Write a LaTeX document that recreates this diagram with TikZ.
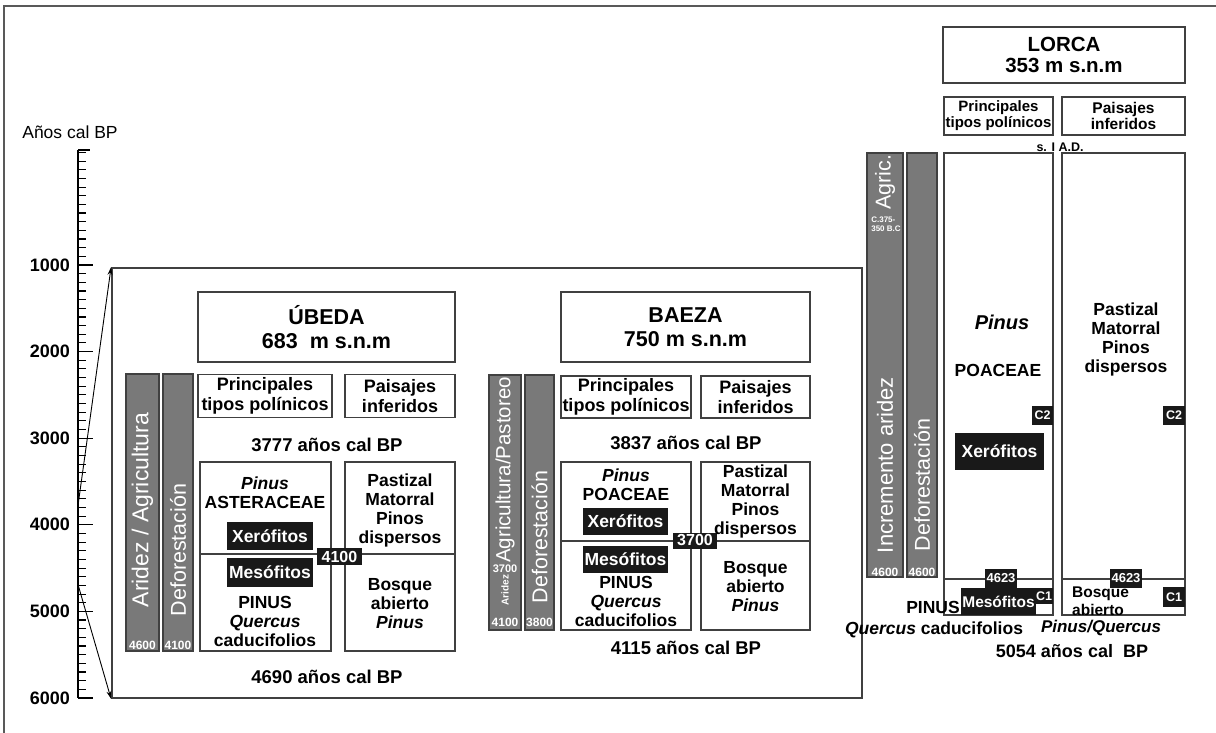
\documentclass[tikz,border=0pt]{standalone}
\usepackage{fontspec}
\setmainfont{Liberation Sans}
\usetikzlibrary{arrows.meta, positioning}
\newcommand{\ftitle}{\bfseries\fontsize{21.5}{24}\selectfont}
\newcommand{\fhead}{\bfseries\fontsize{18}{20}\selectfont}
\newcommand{\ftxt}{\bfseries\fontsize{17.5}{19}\selectfont}
\newcommand{\fbar}{\fontsize{21.5}{21.5}\selectfont}
\newcommand{\fsmall}{\bfseries\fontsize{12}{12}\selectfont}
\tikzset{
  box/.style={rectangle, draw=black!75, fill=white, line width=1.2pt,
              inner sep=0pt, align=center},
  bar/.style={rectangle, draw=black!75, fill=gray!95!black, line width=1.2pt,
              inner sep=0pt},
  txt/.style={inner sep=0pt, align=center, font=\ftxt},
  bartxt/.style={inner sep=0pt, rotate=90, text=white, font=\fbar},
  barnum/.style={inner sep=0pt, text=white, font=\fsmall},
  darktag/.style={rectangle, fill=black!90, text=white, inner sep=0pt,
                  align=center},
  divline/.style={draw=black!75, line width=1.2pt},
  arrow/.style={-{Stealth[length=8pt,width=5pt]}, draw=black, line width=0.9pt},
}

\begin{document}
\begin{tikzpicture}[x=1pt, y=-1pt,
  tick/.style={draw=black, line width=1.1pt},
  axnum/.style={font=\bfseries\fontsize{18}{18}\selectfont, inner sep=0pt}
]
  \useasboundingbox (0,0) rectangle (1216,733);
  % outer frame
  \draw[draw=black!65, line width=1.5pt] (4,733) -- (4,6) -- (1216,6);

  % time axis
  \node[font=\fontsize{17.5}{18}\selectfont, inner sep=0pt] (axtitle) at (70,132) {Años cal BP};
  \draw[tick, line width=1.3pt] (78,150) -- (78,{178.4+0.0866*6000});
  \foreach \t in {-300,-200,...,6000}
    \draw[tick] (78,{178.4+0.0866*\t}) -- (86,{178.4+0.0866*\t});
  \draw[tick] (78,150) -- (90,150);
  \foreach \k in {1,...,6} {
    \draw[tick, line width=1.3pt] (78,{178.4+86.6*\k}) -- (93,{178.4+86.6*\k});
    \node[axnum, anchor=east] (ax\k) at (70,{178.4+86.6*\k}) {\k000};
  }
  \coordinate (y3777) at (78,{178.4+0.0866*3777});
  \coordinate (y4690) at (78,{178.4+0.0866*4690});

  % Ubeda
  \node[box, line width=1.8pt, fill=none, minimum width=750, minimum height=430] (ubFrame) at (487,483) {};
  \draw[arrow] (y3777) -- (ubFrame.north west);
  \draw[arrow] (y4690) -- (ubFrame.south west);

  \node[box, minimum width=257, minimum height=70, font=\ftitle] (ubTitle) at (326.5,327)
    {ÚBEDA\\683~~m s.n.m};
  \node[bar, minimum width=33, minimum height=277] (ubBar1) at (142.5,512.5) {};
  \node[bar, minimum width=30, minimum height=277] (ubBar2) at (178,512.5) {};
  \node[bartxt, font=\fontsize{23}{23}\selectfont] (ubArid) at (142.5,510) {Aridez / Agricultura};
  \node[bartxt] (ubDefo) at (178,550) {Deforestación};
  \node[barnum] (ubN1) at (142.5,645) {4600};
  \node[barnum] (ubN2) at (178,645) {4100};

  \node[box, minimum width=134, minimum height=43, font=\fhead] (ubPolH) at (265,396)
    {Principales\\tipos polínicos};
  \node[box, minimum width=110, minimum height=43, font=\fhead] (ubPaiH) at (400,396)
    {Paisajes\\inferidos};
  \node[txt, font=\bfseries\fontsize{18.5}{20}\selectfont] (ubTop) at (327,445) {3777 años cal BP};

  \node[box, minimum width=131, minimum height=189] (ubPol) at (265.5,556.5) {};
  \node[box, minimum width=110, minimum height=189] (ubPai) at (400,556.5) {};
  \draw[divline] (ubPol.west |- 0,554) -- (ubPai.east |- 0,554);

  \node[txt] (ubPinus) at (265,493) {\textit{Pinus}\\ASTERACEAE};
  \node[darktag, minimum width=86, minimum height=28, font=\ftxt] (ubXero) at (270,536) {Xerófitos};
  \node[darktag, minimum width=86, minimum height=29, font=\ftxt] (ubMeso) at (270,572.5) {Mesófitos};
  \node[txt] (ubLow) at (265,621) {PINUS\\\textit{Quercus}\\caducifolios};
  \node[darktag, minimum width=45, minimum height=17, font=\bfseries\fontsize{16}{16}\selectfont] (ub4100) at (339.5,556.5) {4100};
  \node[txt] (ubPast) at (400,510) {Pastizal\\Matorral\\Pinos\\dispersos};
  \node[txt] (ubBosq) at (400,604) {Bosque\\abierto\\\textit{Pinus}};
  \node[txt, font=\bfseries\fontsize{18.5}{20}\selectfont] (ubBot) at (327,677) {4690 años cal BP};

  % Baeza
  \node[box, minimum width=249, minimum height=70, font=\ftitle] (baTitle) at (685.5,327)
    {BAEZA\\750 m s.n.m};
  \node[bar, minimum width=32, minimum height=255] (baBar1) at (505,502.5) {};
  \node[bar, minimum width=29, minimum height=255] (baBar2) at (539.5,502.5) {};
  \node[bartxt, font=\fontsize{20.5}{20.5}\selectfont] (baAgri) at (505,470) {Agricultura/Pastoreo};
  \node[barnum, font=\bfseries\fontsize{11}{11}\selectfont] (baN3700) at (505,569) {3700};
  \node[barnum, rotate=90, font=\bfseries\fontsize{10}{10}\selectfont] (baArid) at (505,590) {Aridez};
  \node[barnum] (baN1) at (505,622) {4100};
  \node[bartxt] (baDefo) at (539.5,537) {Deforestación};
  \node[barnum] (baN2) at (539.5,622) {3800};

  \node[box, minimum width=130, minimum height=42, font=\fhead] (baPolH) at (626,397)
    {Principales\\tipos polínicos};
  \node[box, minimum width=109, minimum height=42, font=\fhead] (baPaiH) at (755.5,397)
    {Paisajes\\inferidos};
  \node[txt, font=\bfseries\fontsize{18.5}{20}\selectfont] (baTop) at (686,443) {3837 años cal BP};

  \node[box, minimum width=130, minimum height=168] (baPol) at (626,546) {};
  \node[box, minimum width=109, minimum height=168] (baPai) at (755.5,546) {};
  \draw[divline] (baPol.west |- 0,541) -- (baPai.east |- 0,541);

  \node[txt] (baPinus) at (626,485) {\textit{Pinus}\\POACEAE};
  \node[darktag, minimum width=85, minimum height=27, font=\ftxt] (baXero) at (625.5,521.5) {Xerófitos};
  \node[darktag, minimum width=85, minimum height=27, font=\ftxt] (baMeso) at (625.5,559.5) {Mesófitos};
  \node[txt] (baLow) at (626,601) {PINUS\\\textit{Quercus}\\caducifolios};
  \node[darktag, minimum width=44, minimum height=16, font=\bfseries\fontsize{16}{16}\selectfont] (ba3700) at (695,540.5) {3700};
  \node[txt] (baPast) at (755.5,501) {Pastizal\\Matorral\\Pinos\\dispersos};
  \node[txt] (baBosq) at (755.5,587) {Bosque\\abierto\\\textit{Pinus}};
  \node[txt, font=\bfseries\fontsize{18.5}{20}\selectfont] (baBot) at (686,648) {4115 años cal BP};

  % Lorca
  \node[box, minimum width=242, minimum height=56, font=\bfseries\fontsize{20.5}{21}\selectfont] (loTitle) at (1064,55)
    {LORCA\\353 m s.n.m};
  \node[box, minimum width=109, minimum height=38, font=\bfseries\fontsize{15}{16}\selectfont] (loPolH) at (998.5,116)
    {Principales\\tipos polínicos};
  \node[box, minimum width=123, minimum height=38, font=\bfseries\fontsize{15.5}{16}\selectfont] (loPaiH) at (1123.5,116)
    {Paisajes\\inferidos};
  \node[txt, font=\bfseries\fontsize{12.5}{13}\selectfont] (loSI) at (1060,147) {s. I A.D.};

  \node[bar, minimum width=36, minimum height=424] (loBar1) at (885,365) {};
  \node[bar, minimum width=30, minimum height=424] (loBar2) at (922,365) {};
  \node[bartxt] (loAgric) at (885,182) {Agric.};
  \node[barnum, align=left, font=\bfseries\fontsize{8}{9}\selectfont] (loCdate) at (886,224) {C.375-\\350 B.C};
  \node[bartxt, font=\fontsize{22}{22}\selectfont] (loArid) at (885,465) {Incremento aridez};
  \node[barnum] (loN1) at (885,572) {4600};
  \node[bartxt] (loDefo) at (922,485) {Deforestación};
  \node[barnum] (loN2) at (922,572) {4600};

  \node[box, minimum width=109, minimum height=462] (loPol) at (998.5,384) {};
  \node[box, minimum width=123, minimum height=462] (loPai) at (1123.5,384) {};
  \draw[divline] (loPol.west |- 0,579) -- (loPol.east |- 0,579);
  \draw[divline] (loPai.west |- 0,579) -- (loPai.east |- 0,579);

  \node[txt, font=\bfseries\itshape\fontsize{20}{20}\selectfont] (loPinus) at (1002,322) {Pinus};
  \node[txt, font=\bfseries\fontsize{17.5}{18}\selectfont] (loPoac) at (998,370) {POACEAE};
  \node[darktag, minimum width=21, minimum height=19, font=\bfseries\fontsize{12.5}{13}\selectfont] (loC2a) at (1042.5,415.5) {C2};
  \node[darktag, minimum width=89, minimum height=37, font=\bfseries\fontsize{17.5}{18}\selectfont] (loXero) at (999.5,451.5) {Xerófitos};
  \node[darktag, minimum width=75, minimum height=27, font=\bfseries\fontsize{15.5}{16}\selectfont] (loMeso) at (998.5,601.5) {Mesófitos};
  \node[darktag, minimum width=18, minimum height=16, font=\bfseries\fontsize{12.5}{13}\selectfont] (loC1a) at (1044,596) {C1};
  \node[darktag, minimum width=32, minimum height=19, font=\bfseries\fontsize{13}{13}\selectfont] (lo4623a) at (1001,578.5) {4623};
  \node[txt] (loPINUS) at (933,607) {PINUS};
  \node[txt] (loQuer) at (934,630) {\textit{Quercus} caducifolios};

  \node[txt] (loPast) at (1126,339.5) {Pastizal\\Matorral\\Pinos\\dispersos};
  \node[darktag, minimum width=22, minimum height=19, font=\bfseries\fontsize{12.5}{13}\selectfont] (loC2b) at (1174,415.5) {C2};
  \node[darktag, minimum width=32, minimum height=19, font=\bfseries\fontsize{13}{13}\selectfont] (lo4623b) at (1126,578.5) {4623};
  \node[txt, align=left, anchor=west, font=\bfseries\fontsize{15.5}{18}\selectfont] (loBosq) at (1072,601) {Bosque\\abierto};
  \node[darktag, minimum width=22, minimum height=20, font=\bfseries\fontsize{12.5}{13}\selectfont] (loC1b) at (1174,597) {C1};
  \node[txt, font=\bfseries\itshape\fontsize{17}{18}\selectfont] (loPQ) at (1101,628) {Pinus/Quercus};
  \node[txt, font=\bfseries\fontsize{18}{20}\selectfont] (loBot) at (1072,651) {5054 años cal~~BP};
\end{tikzpicture}
\end{document}
